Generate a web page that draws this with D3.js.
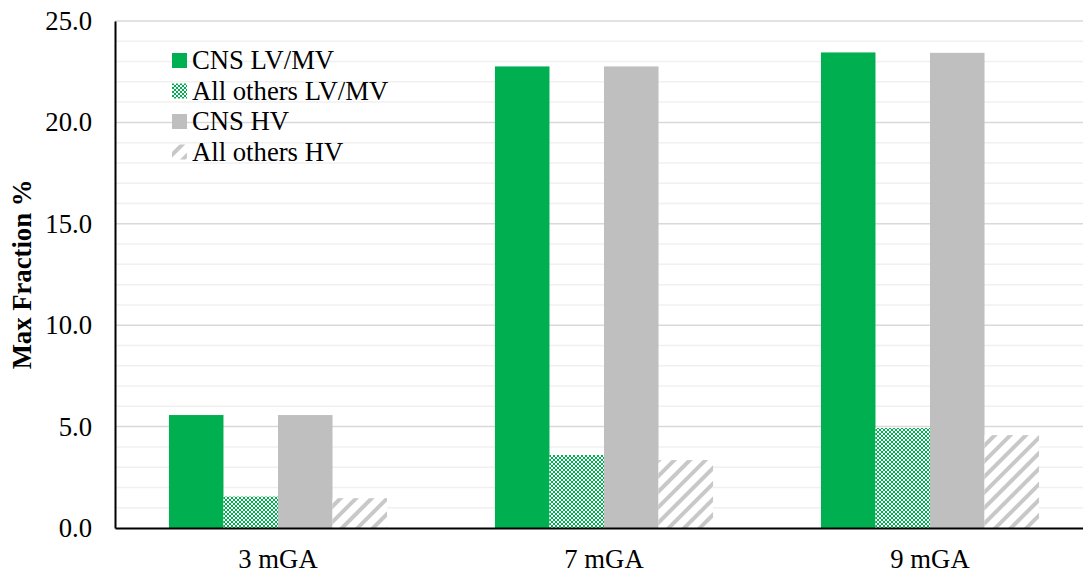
<!DOCTYPE html>
<html>
<head>
<meta charset="utf-8">
<script src="https://cdn.jsdelivr.net/npm/d3@7"></script>
<style>
  body { margin: 0; background: #fff; }
  text { font-family: "Liberation Serif", "Times New Roman", serif; }
</style>
</head>
<body>
<svg id="chart" width="1083" height="573"></svg>
<script>
// data
var categories = ["3 mGA", "7 mGA", "9 mGA"];
var seriesNames = ["CNS LV/MV", "All others LV/MV", "CNS HV", "All others HV"];
var cnsLvMv = [5.57, 22.76, 23.45];
var othersLvMv = [1.55, 3.6, 4.93];
var cnsHv = [5.57, 22.76, 23.43];
var othersHv = [1.47, 3.35, 4.58];
var yTicks = [0, 5, 10, 15, 20, 25];

function drawChart() {
    var svg = d3.select("#chart"),
    margin = {top: 21, right: -10, bottom: 45, left: 115},
    width = +svg.attr("width") - margin.left - margin.right,
    height = +svg.attr("height") - margin.top - margin.bottom;

    var fontSize = 26.7;
    var seriesValues = [cnsLvMv, othersLvMv, cnsHv, othersHv];

    var defs = svg.append("defs");

    // checker pattern for "All others LV/MV"
    var chk = defs.append("pattern")
        .attr("id", "checker")
        .attr("patternUnits", "userSpaceOnUse")
        .attr("width", 4).attr("height", 4);
    chk.append("rect").attr("width", 4).attr("height", 4).attr("fill", "#fff");
    chk.append("rect").attr("width", 2).attr("height", 2).attr("fill", "#00b050");
    chk.append("rect").attr("x", 2).attr("y", 2).attr("width", 2).attr("height", 2).attr("fill", "#00b050");

    // diagonal hatch for "All others HV"
    var hat = defs.append("pattern")
        .attr("id", "hatch")
        .attr("patternUnits", "userSpaceOnUse")
        .attr("width", 11).attr("height", 11)
        .attr("patternTransform", "rotate(45)");
    hat.append("rect").attr("width", 11).attr("height", 11).attr("fill", "#fff");
    hat.append("rect").attr("width", 4).attr("height", 11).attr("fill", "#c8c8c8");

    var fills = ["#00b050", "url(#checker)", "#bfbfbf", "url(#hatch)"];

    var x0 = d3.scaleBand().domain(categories).range([0, width]).paddingInner(0.331).paddingOuter(0.1655);
    var x1 = d3.scaleBand().domain(d3.range(seriesNames.length)).range([0, x0.bandwidth()]);
    var y = d3.scaleLinear().domain([0, 25]).range([height, 0]);

    var graph = svg.append("g")
        .attr("transform", "translate(" + margin.left + "," + margin.top + ")");

    // minor gridlines every 1.0
    graph.append("g")
        .selectAll("line")
        .data(d3.range(1, 26).filter(function(d) { return d % 5 !== 0; }))
        .enter().append("line")
        .attr("x1", 0).attr("x2", width)
        .attr("y1", function(d) { return y(d); })
        .attr("y2", function(d) { return y(d); })
        .attr("stroke", "#f0f0f0")
        .attr("stroke-width", 1.5);

    // major gridlines
    graph.append("g")
        .selectAll("line")
        .data(yTicks.slice(1))
        .enter().append("line")
        .attr("x1", 0).attr("x2", width)
        .attr("y1", function(d) { return y(d); })
        .attr("y2", function(d) { return y(d); })
        .attr("stroke", "#d9d9d9")
        .attr("stroke-width", 1.5);

    // bars
    seriesValues.forEach(function(vals, si) {
        graph.append("g")
            .selectAll("rect")
            .data(vals)
            .enter().append("rect")
            .attr("x", function(d, i) { return x0(categories[i]) + x1(si); })
            .attr("y", function(d) { return y(d); })
            .attr("width", x1.bandwidth())
            .attr("height", function(d) { return height - y(d); })
            .attr("fill", fills[si]);
    });

    // y axis
    var yAxis = graph.append("g")
        .call(d3.axisLeft(y).tickValues(yTicks).tickFormat(d3.format(".1f")).tickSize(0).tickPadding(23));
    yAxis.select(".domain").attr("stroke", "#000").attr("stroke-width", 2);
    yAxis.selectAll("text").attr("font-size", fontSize).attr("fill", "#000")
        .style("font-family", "Liberation Serif");

    // x axis
    var xAxis = graph.append("g")
        .attr("transform", "translate(0," + height + ")")
        .call(d3.axisBottom(x0).tickSize(0).tickPadding(21));
    xAxis.select(".domain").attr("stroke", "#000").attr("stroke-width", 2);
    xAxis.selectAll("text").attr("font-size", fontSize).attr("fill", "#000")
        .style("font-family", "Liberation Serif");

    // y axis title
    svg.append("text")
        .attr("transform", "rotate(-90)")
        .attr("x", -(margin.top + height / 2))
        .attr("y", 31)
        .attr("text-anchor", "middle")
        .attr("font-size", fontSize)
        .attr("font-weight", "bold")
        .text("Max Fraction %");

    // legend
    var legend = svg.append("g")
        .attr("transform", "translate(172,60.5)");
    var row = legend.selectAll("g")
        .data(seriesNames)
        .enter().append("g")
        .attr("transform", function(d, i) { return "translate(0," + (i * 30.5) + ")"; });
    row.append("rect")
        .attr("x", 0).attr("y", -7.5)
        .attr("width", 15).attr("height", 15)
        .attr("fill", function(d, i) { return fills[i]; });
    row.append("text")
        .attr("x", 20)
        .attr("dy", "0.32em")
        .attr("font-size", fontSize)
        .text(function(d) { return d; });
}

drawChart();
</script>
</body>
</html>
